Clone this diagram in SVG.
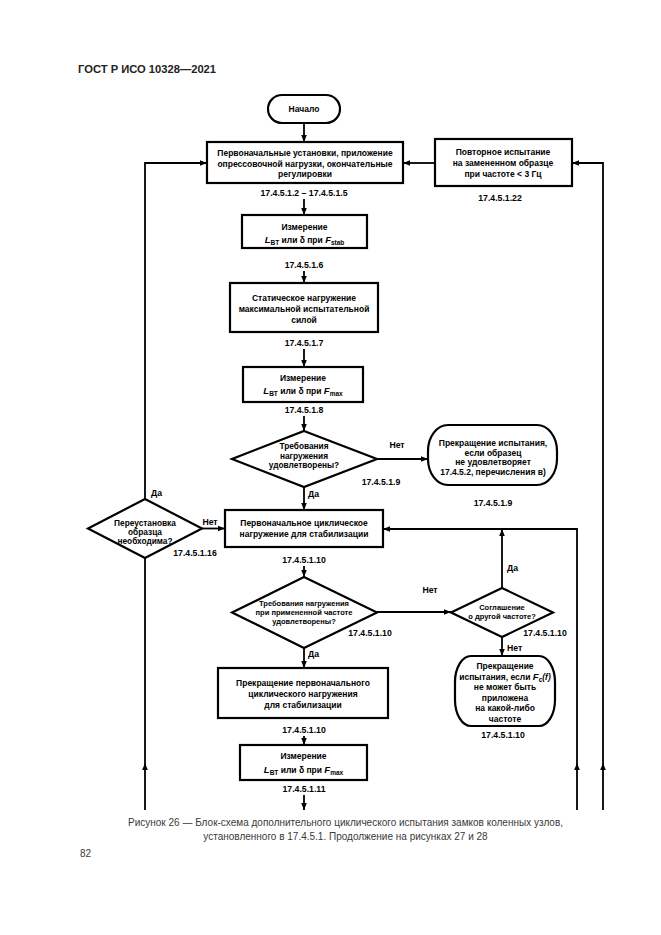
<svg xmlns="http://www.w3.org/2000/svg" width="661" height="935" viewBox="0 0 661 935">
<style>
.bx{fill:#fff;stroke:#000;stroke-width:2.2}
.t{font-family:"Liberation Sans",Arial,sans-serif;font-weight:bold;font-size:8.5px;text-anchor:middle;fill:#000}
.d{font-size:8.3px}
.s{font-size:7.5px}
.l{font-family:"Liberation Sans",Arial,sans-serif;font-weight:bold;font-size:8.7px;text-anchor:middle;fill:#000}
.st{text-anchor:start}
.c{fill:none;stroke:#000;stroke-width:1.8}
.cap{font-family:"Liberation Sans",Arial,sans-serif;font-size:10px;fill:#3a3a3a}
</style>
<defs>
<marker id="ah" viewBox="0 0 10 10" refX="10" refY="5" markerWidth="7" markerHeight="7" markerUnits="userSpaceOnUse" orient="auto"><path d="M0,1 L10,5 L0,9 z" fill="#000"/></marker>
</defs>
<rect width="661" height="935" fill="#fff"/>
<text x="78" y="73" font-family="Liberation Sans,Arial,sans-serif" font-weight="bold" font-size="11.2px" fill="#222">ГОСТ Р ИСО 10328—2021</text>

<g id="connectors">
<path class="c" d="M304,123 V142" marker-end="url(#ah)"/>
<path class="c" d="M304,199 V215" marker-end="url(#ah)"/>
<path class="c" d="M304,271 V283" marker-end="url(#ah)"/>
<path class="c" d="M304,349 V367" marker-end="url(#ah)"/>
<path class="c" d="M304,416 V431" marker-end="url(#ah)"/>
<path class="c" d="M304,487 V510" marker-end="url(#ah)"/>
<path class="c" d="M377,459 H428" marker-end="url(#ah)"/>
<path class="c" d="M304,566 V577" marker-end="url(#ah)"/>
<path class="c" d="M377,612 H451" marker-end="url(#ah)"/>
<path class="c" d="M502,588 V529" marker-end="url(#ah)"/>
<path class="c" d="M502,637 V656" marker-end="url(#ah)"/>
<path class="c" d="M304,648 V668" marker-end="url(#ah)"/>
<path class="c" d="M304,736 V745" marker-end="url(#ah)"/>
<path class="c" d="M304,795 V810" marker-end="url(#ah)"/>
<path class="c" d="M435,163 H403" marker-end="url(#ah)"/>
<path class="c" d="M603,810 V763" marker-end="url(#ah)"/>
<path class="c" d="M603,763 V163 H572" marker-end="url(#ah)"/>
<path class="c" d="M577,810 V763" marker-end="url(#ah)"/>
<path class="c" d="M577,763 V529 H383" marker-end="url(#ah)"/>
<path class="c" d="M145,810 V763" marker-end="url(#ah)"/>
<path class="c" d="M145,763 V558"/>
<path class="c" d="M145,499 V163 H207" marker-end="url(#ah)"/>
<path class="c" d="M202,528.5 H225" marker-end="url(#ah)"/>
</g>

<g id="start">
<rect class="bx" x="268" y="95" width="72" height="28" rx="14"/>
<text class="t" x="304" y="112">Начало</text>
</g>

<g id="n1">
<rect class="bx" x="207" y="142" width="196" height="41"/>
<text class="t" x="305" y="156">Первоначальные установки, приложение</text>
<text class="t" x="305" y="166.5">опрессовочной нагрузки, окончательные</text>
<text class="t" x="305" y="177">регулировки</text>
<text class="l" x="304" y="196">17.4.5.1.2 – 17.4.5.1.5</text>
</g>

<g id="n22">
<rect class="bx" x="435" y="139" width="137" height="47"/>
<text class="t" x="503" y="155">Повторное испытание</text>
<text class="t" x="503" y="166">на замененном образце</text>
<text class="t" x="503" y="177">при частоте &lt; 3 Гц</text>
<text class="l" x="500" y="201">17.4.5.1.22</text>
</g>

<g id="n2">
<rect class="bx" x="242" y="215" width="125" height="33"/>
<text class="t" x="304.5" y="230">Измерение</text>
<text class="t" x="304.5" y="243"><tspan font-style="italic" font-size="9.5px">L</tspan><tspan dy="2" font-size="6.5px">BT</tspan><tspan dy="-2"> или δ при </tspan><tspan font-style="italic" font-size="9.5px">F</tspan><tspan dy="2" font-size="6.5px">stab</tspan></text>
<text class="l" x="304" y="268">17.4.5.1.6</text>
</g>

<g id="n3">
<rect class="bx" x="230" y="283" width="148" height="49"/>
<text class="t" x="304" y="301">Статическое нагружение</text>
<text class="t" x="304" y="312">максимальной испытательной</text>
<text class="t" x="304" y="323">силой</text>
<text class="l" x="304" y="346">17.4.5.1.7</text>
</g>

<g id="n4">
<rect class="bx" x="243" y="367" width="120" height="35"/>
<text class="t" x="303" y="381">Измерение</text>
<text class="t" x="303" y="394"><tspan font-style="italic" font-size="9.5px">L</tspan><tspan dy="2" font-size="6.5px">BT</tspan><tspan dy="-2"> или δ при </tspan><tspan font-style="italic" font-size="9.5px">F</tspan><tspan dy="2" font-size="6.5px">max</tspan></text>
<text class="l" x="304" y="413">17.4.5.1.8</text>
</g>

<g id="d1">
<path class="bx" d="M304,431 L377,459 L304,487 L232,459 Z"/>
<text class="t d" x="304" y="449">Требования</text>
<text class="t d" x="304" y="458.5">нагружения</text>
<text class="t d" x="304" y="468">удовлетворены?</text>
<text class="l" x="397" y="448">Нет</text>
<text class="l" x="381" y="485">17.4.5.1.9</text>
<text class="l st" x="308" y="497">Да</text>
</g>

<g id="stop1">
<rect class="bx" x="428" y="425" width="129" height="60" rx="20" ry="26"/>
<text class="t" x="493" y="446">Прекращение испытания,</text>
<text class="t" x="493" y="455.5">если образец</text>
<text class="t" x="493" y="465">не удовлетворяет</text>
<text class="t" x="493" y="474.5">17.4.5.2, перечисления в)</text>
<text class="l" x="493" y="506">17.4.5.1.9</text>
</g>

<g id="d16">
<path class="bx" d="M145,499 L202,528.5 L145,558 L88,528.5 Z"/>
<text class="t d" x="145" y="526">Переустановка</text>
<text class="t d" x="145" y="535">образца</text>
<text class="t d" x="145" y="544">необходима?</text>
<text class="l st" x="151" y="496">Да</text>
<text class="l" x="210" y="525">Нет</text>
<text class="l" x="195" y="556">17.4.5.1.16</text>
</g>

<g id="n5">
<rect class="bx" x="225" y="510" width="158" height="37"/>
<text class="t" x="304" y="526">Первоначальное циклическое</text>
<text class="t" x="304" y="537">нагружение для стабилизации</text>
<text class="l" x="304" y="563">17.4.5.1.10</text>
</g>

<g id="d3">
<path class="bx" d="M304,577 L377,612.5 L304,648 L232,612.5 Z"/>
<text class="t s" x="304" y="606">Требования нагружения</text>
<text class="t s" x="304" y="615">при примененной частоте</text>
<text class="t s" x="304" y="624">удовлетворены?</text>
<text class="l" x="430" y="593">Нет</text>
<text class="l" x="370" y="636">17.4.5.1.10</text>
<text class="l st" x="308" y="657">Да</text>
</g>

<g id="d4">
<path class="bx" d="M502,588 L553,612.5 L502,637 L451,612.5 Z"/>
<text class="t s" x="502" y="610">Соглашение</text>
<text class="t s" x="502" y="619">о другой частоте?</text>
<text class="l st" x="507" y="571">Да</text>
<text class="l" x="545" y="636">17.4.5.1.10</text>
<text class="l st" x="507" y="651">Нет</text>
</g>

<g id="stop2">
<rect class="bx" x="455" y="656" width="100" height="70" rx="16" ry="26"/>
<text class="t" x="505" y="669">Прекращение</text>
<text class="t" x="505" y="679.5"><tspan>испытания, если </tspan><tspan font-style="italic" font-size="9.5px">F</tspan><tspan dy="2" font-size="6.5px">c</tspan><tspan dy="-2" font-style="italic">(f)</tspan></text>
<text class="t" x="505" y="690">не может быть</text>
<text class="t" x="505" y="700.5">приложена</text>
<text class="t" x="505" y="711">на какой-либо</text>
<text class="t" x="505" y="721.5">частоте</text>
<text class="l" x="503" y="738">17.4.5.1.10</text>
</g>

<g id="n6">
<rect class="bx" x="218" y="668" width="170" height="50"/>
<text class="t" x="303" y="686">Прекращение первоначального</text>
<text class="t" x="303" y="697">циклического нагружения</text>
<text class="t" x="303" y="708">для стабилизации</text>
<text class="l" x="304" y="733">17.4.5.1.10</text>
</g>

<g id="n7">
<rect class="bx" x="240" y="745" width="127" height="35"/>
<text class="t" x="303.5" y="759">Измерение</text>
<text class="t" x="303.5" y="773"><tspan font-style="italic" font-size="9.5px">L</tspan><tspan dy="2" font-size="6.5px">BT</tspan><tspan dy="-2"> или δ при </tspan><tspan font-style="italic" font-size="9.5px">F</tspan><tspan dy="2" font-size="6.5px">max</tspan></text>
<text class="l" x="304" y="792">17.4.5.1.11</text>
</g>

<text class="cap" x="345.5" y="826" text-anchor="middle">Рисунок 26 — Блок-схема дополнительного циклического испытания замков коленных узлов,</text>
<text class="cap" x="345.5" y="840" text-anchor="middle">установленного в 17.4.5.1. Продолжение на рисунках 27 и 28</text>
<text class="cap" x="80" y="857">82</text>
</svg>
